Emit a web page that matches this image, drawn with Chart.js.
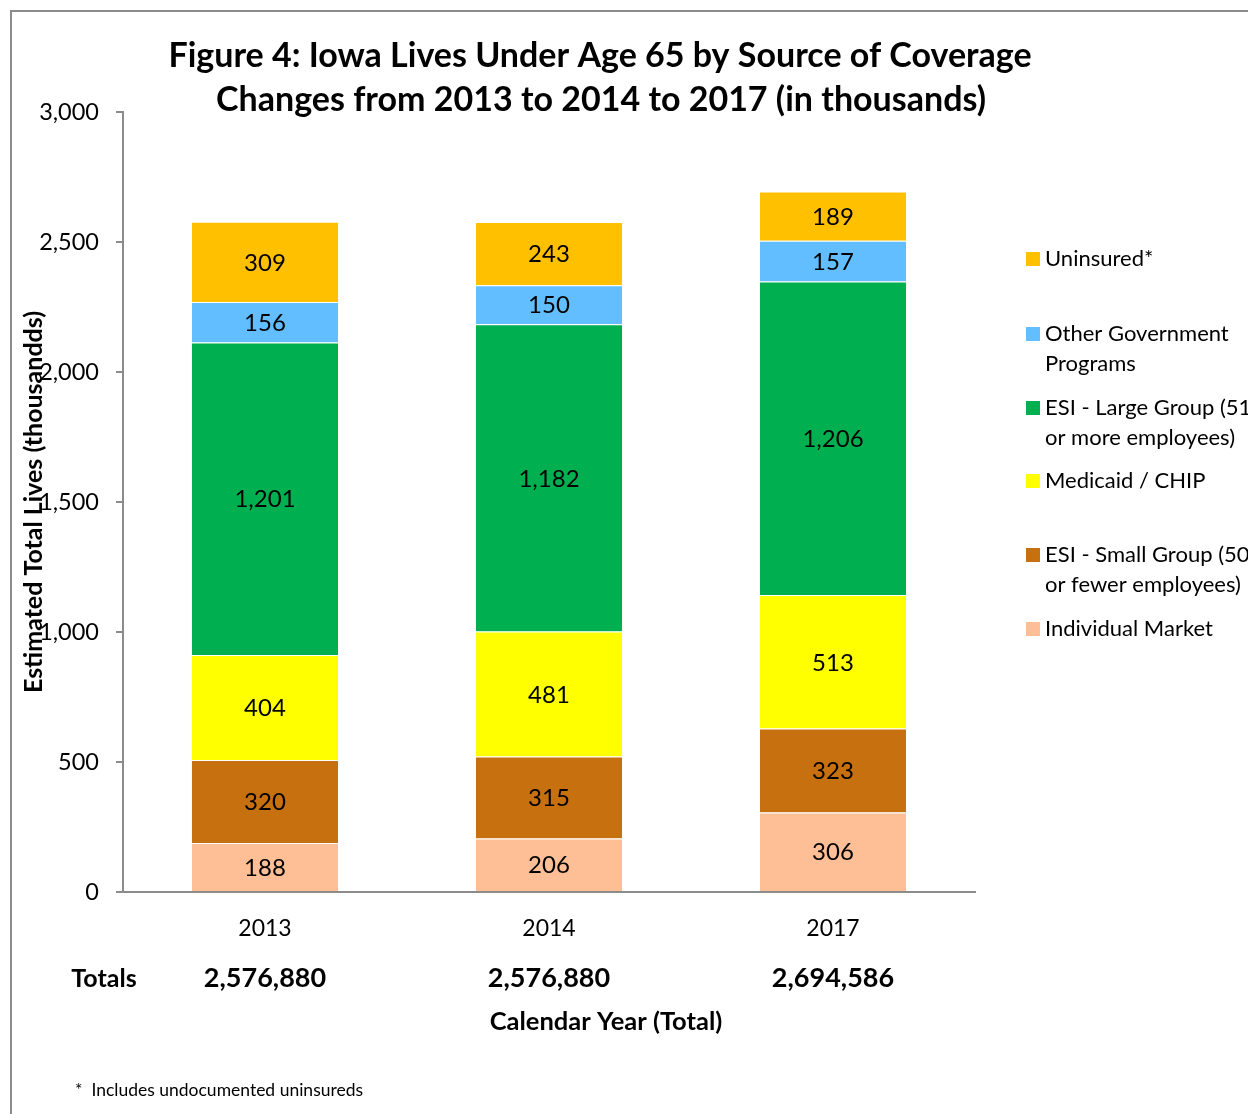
<!DOCTYPE html>
<html>
<head>
<meta charset="utf-8">
<script src="https://cdn.jsdelivr.net/npm/chart.js@4.4.1/dist/chart.umd.min.js"></script>
<style>
  body { margin: 0; background: #fff; }
  #wrap { position: absolute; left: 0; top: 0; width: 1248px; height: 1114px; }
</style>
</head>
<body>
<div id="wrap"><canvas id="myChart" width="1248" height="1114"></canvas></div>
<script>
// chart data (thousands)
const years = ["2013", "2014", "2017"];
const individualMarket = [188, 206, 306];
const esiSmall = [320, 315, 323];
const medicaidChip = [404, 481, 513];
const esiLarge = [1201, 1182, 1206];
const otherGov = [156, 150, 157];
const uninsured = [309, 243, 189];
const totals = ["2,576,880", "2,576,880", "2,694,586"];
const yTicks = [0, 500, 1000, 1500, 2000, 2500, 3000];

const FONT = "Lato, 'Noto Sans', sans-serif";

// legend entries, top to bottom (lines of text)
const legendItems = [
  { idx: 5, lines: ["Uninsured*"], y: 259 },
  { idx: 4, lines: ["Other Government", "Programs"], y: 334 },
  { idx: 3, lines: ["ESI - Large Group (51", "or more employees)"], y: 408 },
  { idx: 2, lines: ["Medicaid / CHIP"], y: 481 },
  { idx: 1, lines: ["ESI - Small Group (50", "or fewer employees)"], y: 555 },
  { idx: 0, lines: ["Individual Market"], y: 629 },
];

const extras = {
  id: "extras",
  beforeDraw(chart) {
    const ctx = chart.ctx;
    ctx.save();
    ctx.fillStyle = "#ffffff";
    ctx.fillRect(0, 0, chart.width, chart.height);
    ctx.restore();
  },
  afterDraw(chart) {
    const ctx = chart.ctx;
    const x = chart.scales.x;
    ctx.save();

    // frame
    ctx.strokeStyle = "#8c8c8c";
    ctx.lineWidth = 2;
    ctx.beginPath();
    ctx.moveTo(11, chart.height);
    ctx.lineTo(11, 11);
    ctx.lineTo(chart.width, 11);
    ctx.stroke();

    // title
    ctx.fillStyle = "#000";
    ctx.textAlign = "center";
    ctx.textBaseline = "middle";
    ctx.font = "bold 34px " + FONT;
    ctx.fillText("Figure 4: Iowa Lives Under Age 65 by Source of Coverage", 600, 56);
    ctx.fillText("Changes from 2013 to 2014 to 2017 (in thousands)", 601, 100);

    // value labels inside segments
    ctx.font = "24px " + FONT;
    chart.data.datasets.forEach((ds, i) => {
      chart.getDatasetMeta(i).data.forEach((bar, j) => {
        const mid = (bar.y + bar.base) / 2;
        ctx.fillText(ds.data[j].toLocaleString("en-US"), bar.x, mid + 1);
      });
    });

    // totals row
    ctx.font = "bold 25px " + FONT;
    ctx.fillText("Totals", 104, 979);
    ctx.font = "bold 27px " + FONT;
    totals.forEach((t, j) => {
      ctx.fillText(t, x.getPixelForValue(j), 978);
    });

    // x axis title
    ctx.font = "bold 25.5px " + FONT;
    ctx.fillText("Calendar Year (Total)", 606, 1022);

    // y axis title (overlaps tick labels like the original)
    ctx.save();
    ctx.translate(34, 502);
    ctx.rotate(-Math.PI / 2);
    ctx.font = "bold 25px " + FONT;
    ctx.fillText("Estimated Total Lives (thousandds)", 0, 0);
    ctx.restore();

    // footnote
    ctx.textAlign = "left";
    ctx.font = "17.5px " + FONT;
    ctx.fillText("*  Includes undocumented uninsureds", 75, 1090);

    // legend
    ctx.font = "22px " + FONT;
    legendItems.forEach((item) => {
      const ds = chart.data.datasets[item.idx];
      ctx.fillStyle = ds.backgroundColor;
      ctx.fillRect(1026, item.y - 7, 14, 14);
      ctx.fillStyle = "#000";
      item.lines.forEach((line, k) => {
        ctx.fillText(line, 1045, item.y + k * 30);
      });
    });

    ctx.restore();
  },
};

const ctx = document.getElementById("myChart").getContext("2d");
const myChart = new Chart(ctx, {
  type: "bar",
  data: {
    labels: years,
    datasets: [
      { label: "Individual Market", data: individualMarket, backgroundColor: "#FFBF96" },
      { label: "ESI - Small Group (50 or fewer employees)", data: esiSmall, backgroundColor: "#C6700F" },
      { label: "Medicaid / CHIP", data: medicaidChip, backgroundColor: "#FFFF00" },
      { label: "ESI - Large Group (51 or more employees)", data: esiLarge, backgroundColor: "#00B050" },
      { label: "Other Government Programs", data: otherGov, backgroundColor: "#63BEFF" },
      { label: "Uninsured*", data: uninsured, backgroundColor: "#FFC000" },
    ].map((d) => ({
      ...d,
      borderColor: "#ffffff",
      borderWidth: { top: 1, bottom: 0, left: 0, right: 0 },
      borderSkipped: false,
      categoryPercentage: 1,
      barPercentage: 0.515,
    })),
  },
  options: {
    responsive: false,
    animation: false,
    layout: { padding: { left: 0, top: 112, right: 273, bottom: 0 } },
    plugins: {
      legend: { display: false },
      title: { display: false },
      tooltip: { enabled: false },
    },
    scales: {
      x: {
        stacked: true,
        grid: { display: false },
        border: { display: true, color: "#8c8c8c", width: 2 },
        ticks: { color: "#000", font: { family: FONT, size: 23 }, padding: 15 },
        afterFit: (scale) => { scale.height = 222; },
      },
      y: {
        stacked: true,
        min: 0,
        max: 3000,
        afterBuildTicks: (scale) => { scale.ticks = yTicks.map((v) => ({ value: v })); },
        grid: { drawOnChartArea: false, tickLength: 7, color: "#8c8c8c", lineWidth: 2 },
        border: { display: true, color: "#8c8c8c", width: 2 },
        ticks: {
          color: "#000",
          font: { family: FONT, size: 23.5 },
          padding: 17,
          callback: (v) => v.toLocaleString("en-US"),
        },
        afterFit: (scale) => { scale.width = 123; },
      },
    },
  },
  plugins: [extras],
});
</script>
</body>
</html>
